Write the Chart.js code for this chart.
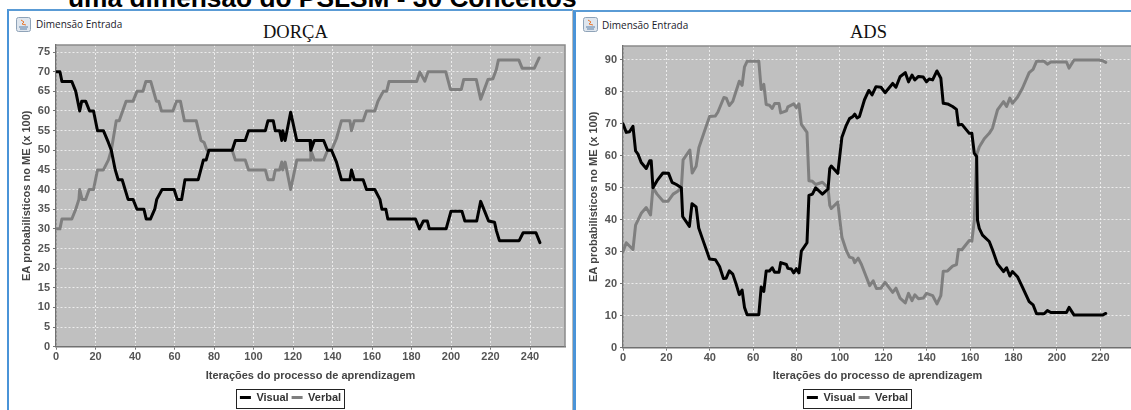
<!DOCTYPE html>
<html><head><meta charset="utf-8">
<script src="https://cdn.jsdelivr.net/npm/chart.js@4"></script>
<style>
html,body{margin:0;padding:0;width:1131px;height:410px;overflow:hidden;background:#fff;}
#page{position:relative;width:1131px;height:410px;overflow:hidden;}
.abs{position:absolute;}
.win{position:absolute;background:#fff;box-sizing:border-box;border-top:2px solid #5a9bd5;border-left:2px solid #4a94d8;}
.cap{position:absolute;font:10px "Open Sans","DejaVu Sans",sans-serif;color:#1a1a2a;white-space:nowrap;}
.ttl{position:absolute;font:18.5px "Liberation Serif",serif;color:#111;white-space:nowrap;}
canvas{position:absolute;}
</style></head><body><div id="page">
<div class="abs" id="head" style="left:68px;top:-16px;font:bold 26.3px 'Liberation Sans',Arial,sans-serif;color:#000;line-height:28px;white-space:nowrap;">uma dimensão do PSLSM - 30 Conceitos</div>
<div class="win" style="left:7px;top:9px;width:566px;height:401px;border-right:1px solid #bbb;"></div>
<div class="win" style="left:573px;top:10px;width:570px;height:400px;border-left-width:3px;"></div>
<svg class="abs" style="left:16px;top:17px" width="15" height="15"><rect x=".5" y=".5" width="14" height="14" rx="2" fill="#dfe6ee" stroke="#8fa3b8"/><path d="M5 3l3 2-2 2 4 1" stroke="#e8772e" fill="none"/><path d="M3 10h9M4 12h7" stroke="#5b7fa6"/></svg>
<svg class="abs" style="left:583px;top:17px" width="15" height="15"><rect x=".5" y=".5" width="14" height="14" rx="2" fill="#dfe6ee" stroke="#8fa3b8"/><path d="M5 3l3 2-2 2 4 1" stroke="#e8772e" fill="none"/><path d="M3 10h9M4 12h7" stroke="#5b7fa6"/></svg>
<div class="cap" style="left:36px;top:17px">Dimensão Entrada</div>
<div class="cap" style="left:602px;top:18px">Dimensão Entrada</div>
<div class="ttl" style="left:263px;top:22px">DORÇA</div>
<div class="ttl" style="left:850px;top:22px">ADS</div>
<canvas id="c1" style="left:8px;top:11px" width="564" height="402"></canvas>
<canvas id="c2" style="left:575px;top:12px" width="564" height="401"></canvas>
</div>
<script>
const seriesNames = ["Visual", "Verbal"];
const xAxisTitle = "Iterações do processo de aprendizagem";
const yAxisTitle = "EA probabilísticos no ME (x 100)";

const dorcaVisualX = [0,2,3,8,10,12,13,15,17,19,21,24,26.5,28,30,31.5,33.5,36.5,39,41,44.5,45.7,47.8,50,51,53.7,59.8,61.4,63.6,65.3,72,74.6,76,77.4,89.2,90.8,95.8,97.5,106,107.3,110,111,113.2,114.3,114.8,116,118.8,121.9,128.6,129,130.8,135.5,137.5,139.5,142,144.5,148.8,149.6,151,155.5,157.2,161.4,164,165,167,168,182,184,186,188,189,197.5,200,205.5,207,213,215,217,219,222,223,224.5,234.5,236.5,243,245];
const dorcaVisualY = [70,70,67.5,67.5,65,60,62.5,62.5,60,60,55,55,52,50,45,42.5,42.5,37.5,37.5,35,35,32.5,32.5,35,37.5,40,40,37.5,37.5,42.5,42.5,47.5,47.5,50,50,52.5,52.5,55,55,57.5,57.5,55,55,52.5,55,52.5,59.7,52.5,52.5,50,52.5,52.5,50,50,47,42.5,42.5,45,42.5,42.5,40,40,37.5,35,35,32.5,32.5,30,32,32,30,30,34.5,34.5,32,32,37,34.5,32,31.7,29.5,27,27,29,29,26.5];
const dorcaVerbalX = [0,2,3,8,10,11.6,12,13.2,15,16.8,19,21,24,26.5,28,30.5,32,35.5,39,41,44,45.5,48,50.8,52,53.4,59.2,61,63,65,71,73.4,75,76.4,89.2,90.8,95.8,97.5,106,107.3,110,111,113.2,114.3,114.8,116,118.8,121.9,128.6,129,130.8,135.5,137.5,139.5,142,144.5,148.8,149.6,151,155.5,157.2,161.4,163,165.7,167.4,168.6,182.6,184.2,186.7,188.4,197.3,199.7,205.2,206.4,212.8,215,217,218.7,221.2,222.9,224,234.3,236,242.2,244.6];
const dorcaVerbalY = [30,30,32.5,32.5,35,37.5,40,37.5,37.5,40,40,45,45,47.5,50,57.5,57.5,62.5,62.5,65,65,67.5,67.5,62.5,62.5,60,60,62.5,62.5,57.5,57.5,52.5,52,50,50,47.5,47.5,45,45,42.5,42.5,45,45,47,45,47,40,47.5,47.5,50,47.5,47.5,50,50,53,57.5,57.5,55,57.5,57.5,60,60,62.5,65,65,67.5,67.5,69.9,67.6,70,70,65.5,65.5,68,68,63,65.7,68,68.2,70.5,73,73,70.9,70.9,73.5];

const adsVisualX = [0,1.5,3,4.6,5.8,6.9,8.4,10.7,12.3,13,13.8,15.7,18.4,21,22.6,24.6,26.9,27.5,30.6,31.8,33.7,34.9,36.8,39.9,42.6,44.5,46.3,47.5,49,50.6,52.1,53.6,54.9,56,57.2,62.6,63.7,64.9,66,67.5,68.8,69.9,71.9,72.7,75.3,76,77.6,78.7,79.9,81.1,82.2,84.8,85.7,87.3,88.8,91.9,94.5,95.3,96,99,100.9,102.9,104.4,106,106.8,107.9,109,111.3,113.3,114.8,116.6,118.9,120.8,124.3,125.8,127.7,130.1,131.6,133.2,134.5,136.2,138.4,139.9,141.1,142.7,144.7,146.5,147.6,149.6,151.9,153.7,154.6,156.2,159.6,160.8,161.9,163,163.4,164.2,165.7,168.8,170.3,172.6,175.4,176.8,178.3,179.5,181.8,184.1,187.2,189,190.6,194.1,195.6,197.2,204.4,205.6,207.9,219.4,221,222.5];
const adsVisualY = [70,67.3,67.5,69.2,61.5,60.5,57.9,56,58.4,58.4,50,52.2,54.6,54.5,51.7,51,50,41,37.9,45,44,37.4,33.7,27.7,27.5,25.4,21.6,21.7,24,23,20,16.6,18,12.6,10.3,10.3,19,17.6,24,24,25,23.6,23.6,26.6,26,24.8,24.6,23.4,24.7,23.4,30.2,32.8,47.6,48,50,48,49.6,56,56.8,54.5,65.8,69.5,71.6,72.3,73,71.8,72.3,77.5,80.4,79,81.6,81.4,79.7,82.6,81.4,84.7,86,83.1,85.2,83.7,84.8,84.6,83.1,84,83.7,86.5,84.2,76.4,76.2,75.4,74.5,69.6,69.8,67,67,60.8,59.7,39.8,37.3,35.2,33.2,30.6,26.2,23.8,25,22.4,23.8,22.2,18.9,14.4,13.4,10.6,10.6,11.6,11,11,12.6,10.2,10.2,10.2,10.7];
const adsVerbalX = [0,1.5,4.6,5.8,8.4,10.7,12.7,13.8,15.7,18.5,20.8,23.1,25.4,26.9,27.7,30.8,31.9,33.7,35,39.9,42.5,43.7,46.5,47.6,49,50.6,53.6,54.9,56,57.2,62.6,63.7,64.9,66,67.5,68.8,69.9,71.9,72.7,75.3,76,78.7,79.9,81.1,82.2,84.8,85.7,87.3,88.8,91.9,94.5,95.3,96,99,100.9,102.9,104.4,106,106.8,108.4,109.9,112.2,113.7,115.3,116.8,118.9,120.8,124.3,125.8,127.7,130.1,131.6,133.2,134.5,136.2,138.4,139.9,142.7,144.7,146.5,147.6,149.6,151.9,153.7,154.6,156.2,159.6,160.8,161.9,163,164.2,166.5,168.8,170.3,172.6,175.4,176.8,178.3,179.5,181.8,184.1,187.2,189,190.6,194.1,195.6,197.2,204.4,205.6,207.9,219.4,221,222.5];
const adsVerbalY = [30,32.8,30.7,38.3,42,43.8,41.5,50,48,45.8,45.8,48,49,50,58.7,61.8,54.6,56.7,62.6,72.3,72.4,73.6,78.2,78,75.7,77,83.3,82,87.8,89.5,89.5,80.7,82.3,76,75.8,74.8,76.3,76.3,73.4,74,75.3,76.2,75,76.2,69.8,67.3,52.2,52,51,51.7,50,44.5,43.5,45.5,34.5,30.4,28.3,28,26.6,28,26,22,19.4,20.9,18.5,18.6,20.4,17.3,18.6,15.5,14,17,14.7,16.5,15.3,15.5,17,16.3,13.7,16.3,23.9,24,25.5,26,30.7,30.6,33.5,33.3,39.7,60.3,62.7,65.3,67,68.6,74.3,76.9,75.4,78,76.4,78.3,81.1,86,87,89.5,89.5,88.6,89.3,89.3,87.4,89.9,89.9,89.7,89.2];

const zip = (xs, ys) => xs.map((x, i) => ({x, y: ys[i]}));

const framePlugin = {
  id: 'frame',
  afterLayout(c) {
    const L = c.legend;
    L.left += 4; L.right += 4;
    L.adjustHitBoxes();
  },
  beforeDraw(c) {
    const a = c.chartArea, g = c.ctx;
    g.save(); g.fillStyle = '#c0c0c0';
    g.fillRect(a.left, a.top, a.right - a.left, a.bottom - a.top); g.restore();
  },
  afterDraw(c) {
    const a = c.chartArea, g = c.ctx, L = c.legend;
    g.save(); g.strokeStyle = '#8a8a8a'; g.lineWidth = 1.5;
    g.beginPath(); g.moveTo(a.left, a.top); g.lineTo(a.right, a.top); g.lineTo(a.right, a.bottom); g.stroke();
    const w = L.legendHitBoxes[1].left + L.legendHitBoxes[1].width - L.legendHitBoxes[0].left;
    g.strokeStyle = '#222'; g.lineWidth = 1;
    const x0 = Math.round(L.legendHitBoxes[0].left) - 3.5;
    g.strokeRect(x0, L.top + 0.5, Math.round(w) + 7, 19);
    g.restore();
  }
};

function makeChart(id, vx, vy, bx, by, xMax, yMax, yStep, axisH, padTop) {
  const tickFont = {family: "'Liberation Sans',Arial,sans-serif", size: 11, weight: 'bold'};
  new Chart(document.getElementById(id), {
    type: 'line',
    data: {datasets: [
      {label: seriesNames[0], data: zip(vx, vy), borderColor: '#000', backgroundColor: '#000', borderWidth: 3, pointRadius: 0, tension: 0, borderJoinStyle: 'round', borderCapStyle: 'round'},
      {label: seriesNames[1], data: zip(bx, by), borderColor: '#7f7f7f', backgroundColor: '#7f7f7f', borderWidth: 3, pointRadius: 0, tension: 0, borderJoinStyle: 'round', borderCapStyle: 'round'}
    ]},
    options: {
      responsive: false, animation: false,
      layout: {padding: {top: padTop, left: 0, right: 7, bottom: 0}},
      plugins: {
        title: {display: false}, tooltip: {enabled: false},
        legend: {display: true, position: 'bottom', labels: {
          font: tickFont, color: '#333', usePointStyle: true, pointStyle: 'line', pointStyleWidth: 11, boxHeight: 11, padding: 3
        }}
      },
      scales: {
        x: {type: 'linear', min: 0, max: xMax,
          afterFit(s) { s.height = axisH; },
          grid: {color: 'rgba(255,255,255,0.7)', tickColor: '#777', tickLength: 3, lineWidth: 1},
          border: {color: '#707070', width: 1.5, dash: [2, 2]},
          ticks: {stepSize: 20, includeBounds: false, maxRotation: 0, font: tickFont, color: '#555', padding: 1},
          title: {display: true, text: xAxisTitle, font: tickFont, color: '#444', padding: {top: 4, bottom: 6}}
        },
        y: {min: 0, max: yMax,
          afterFit(s) { s.width = 48; },
          grid: {color: 'rgba(255,255,255,0.7)', tickColor: '#777', tickLength: 3, lineWidth: 1},
          border: {color: '#707070', width: 1.5, dash: [2, 2]},
          ticks: {stepSize: yStep, includeBounds: false, font: tickFont, color: '#555', padding: 3},
          title: {display: true, text: yAxisTitle, font: tickFont, color: '#444', padding: {top: 12, bottom: 0}}
        }
      }
    },
    plugins: [framePlugin]
  });
}
makeChart('c1', dorcaVisualX, dorcaVisualY, dorcaVerbalX, dorcaVerbalY, 257.7, 76.8, 5, 42.3, 34);
makeChart('c2', adsVisualX, adsVisualY, adsVerbalX, adsVerbalY, 234.6, 94.3, 10, 41.3, 34);
</script></body></html>
